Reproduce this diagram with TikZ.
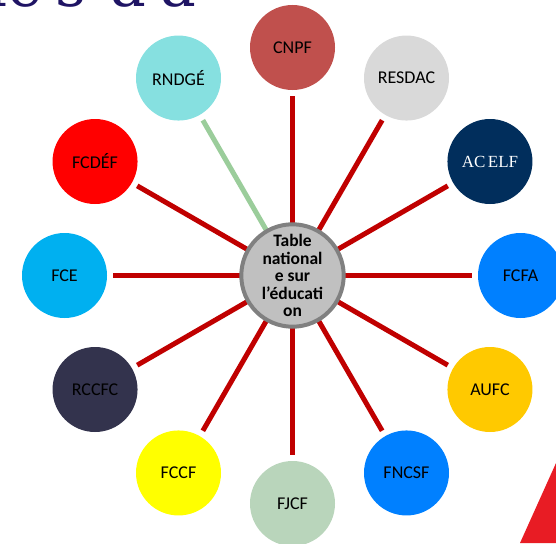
\documentclass[tikz,border=0pt]{standalone}
\usepackage{fontspec}
\setmainfont{Carlito}
\newfontfamily\acelffont{Liberation Serif}
\newfontfamily\titlefont{DejaVu Serif}
\usetikzlibrary{positioning,calc}
\definecolor{titleblue}{RGB}{31,20,100}
\definecolor{spokered}{RGB}{192,0,0}
\definecolor{spokegreen}{RGB}{155,205,155}
\definecolor{cnpfcol}{RGB}{192,80,77}
\definecolor{resdaccol}{RGB}{217,217,217}
\definecolor{acelfcol}{RGB}{1,46,92}
\definecolor{fcfacol}{RGB}{0,128,255}
\definecolor{aufccol}{RGB}{255,201,0}
\definecolor{fncsfcol}{RGB}{0,128,255}
\definecolor{fjcfcol}{RGB}{185,213,187}
\definecolor{fccfcol}{RGB}{255,255,0}
\definecolor{rccfccol}{RGB}{51,51,77}
\definecolor{fcecol}{RGB}{0,176,240}
\definecolor{fcdefcol}{RGB}{255,0,0}
\definecolor{rndgecol}{RGB}{134,224,224}
\definecolor{flagred}{RGB}{232,28,36}
\tikzset{member/.style={circle, minimum size=85pt, inner sep=0pt, font=\fontsize{18}{21}\selectfont},
         spoke/.style={line width=5pt, draw=spokered, shorten >=6pt},
         hub/.style={circle, minimum size=90pt, inner sep=0pt, line width=4pt,
                     draw={rgb,255:red,128;green,128;blue,128}, fill={rgb,255:red,192;green,192;blue,192},
                     align=center, font=\bfseries\fontsize{17.5}{17.5}\selectfont}}

\begin{document}
\begin{tikzpicture}[x=1pt,y=-1pt]
    \useasboundingbox (0,0) rectangle (556,543);
    \clip (0,0) rectangle (556,543);

    % title, cut at the top
    \foreach \c/\x [count=\k] in {le/-12, s/55, à/110, a/160}
        \node[anchor=base west, inner sep=0pt, text=titleblue, font=\titlefont\fontsize{60}{60}\selectfont] (title\k) at (\x,7) {\c};

    \fill[flagred] (520,543) -- (556,463) -- (556,543) -- cycle;

    \coordinate (mid) at (292.5,275.5);

    \foreach \ang/\name/\col/\lbl in {
            270/cnpf/cnpfcol/CNPF,
            300/resdac/resdaccol/RESDAC,
            330/acelf/acelfcol/{\textcolor{white}{\acelffont\fontsize{17}{20}\selectfont AC\kern2.5pt ELF}},
            0/fcfa/fcfacol/FCFA,
            30/aufc/aufccol/AUFC,
            60/fncsf/fncsfcol/FNCSF,
            90/fjcf/fjcfcol/FJCF,
            120/fccf/fccfcol/FCCF,
            150/rccfc/rccfccol/RCCFC,
            180/fce/fcecol/FCE,
            210/fcdef/fcdefcol/FCDÉF,
            240/rndge/rndgecol/RNDGÉ}
        \node[member, fill=\col] (\name) at ($(mid)+(\ang:228)$) {\lbl};

    \foreach \name in {cnpf,resdac,acelf,fcfa,aufc,fncsf,fjcf,fccf,rccfc,fce,fcdef}
        \draw[spoke] (mid) -- (\name);
    \draw[spoke, draw=spokegreen] (mid) -- (rndge);

    \node[hub] (hub) at (mid) {Table\\national\\e sur\\l'éducati\\on};

\end{tikzpicture}
\end{document}
